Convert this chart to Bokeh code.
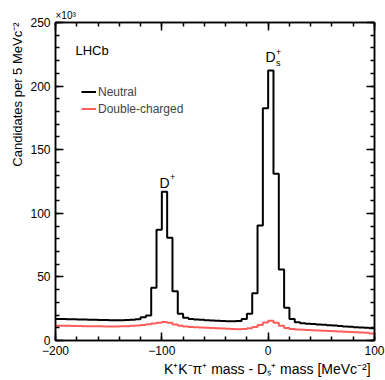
import numpy as np
from bokeh.plotting import figure
from bokeh.models import (LinearAxis, SingleIntervalTicker, Label, Legend, LegendItem,
                          Range1d, CustomJSTickFormatter, Title)
from bokeh.embed import file_html
from bokeh.resources import INLINE

# ---- data (candidates per 5 MeV, in units of 10^3) ----
BIN_LO = -200
BIN_W = 5
neutral = [17.0, 16.9, 16.8, 16.7, 16.6, 16.5, 16.4, 16.3, 16.2, 16.1, 16.0, 16.0, 16.0, 16.2, 16.4, 16.8,
           18.3, 19.7, 41.4, 87.0, 117.0, 80.7, 38.8, 21.0, 17.8, 17.0, 16.5, 16.3, 16.0, 15.8, 15.5,
           15.3, 15.2, 15.2, 15.3, 17.0, 21.0, 37.2, 90.4, 182.6, 212.3, 131.0, 55.8, 25.7, 17.0,
           14.4, 13.6,
           13.2, 12.9, 12.6, 12.3, 12.0, 11.7, 11.4, 11.1, 10.8, 10.5, 10.2, 10.0, 9.7]
double = [11.6, 11.5, 11.5, 11.4, 11.4, 11.3, 11.3, 11.2, 11.2, 11.1, 11.1, 11.1, 11.2, 11.3, 11.5, 11.8,
          12.2, 12.8, 13.4, 14.0, 14.5, 14.0, 12.6, 11.6, 11.0, 10.6, 10.4, 10.2, 10.0, 9.8, 9.6,
          9.4, 9.2, 9.0, 8.9, 9.0, 9.6, 10.6, 12.2, 14.2, 15.6, 14.0, 11.5, 9.8, 9.0,
          8.6, 8.4,
          8.2, 8.0, 7.8, 7.6, 7.4, 7.2, 7.0, 6.8, 6.6, 6.4, 6.2, 6.0, 5.6]
series_names = ["Neutral", "Double-charged"]
x_title = "K⁺K⁻π⁺ mass - Dₛ⁺ mass  [MeVc⁻²]"
y_title = "Candidates per 5 MeVc⁻²"

nb = len(neutral)
edges = BIN_LO + BIN_W * np.arange(nb + 1)

FONT = "Liberation Sans"

p = figure(width=385, height=380, output_backend="svg", toolbar_location=None,
           x_range=Range1d(-200, 100), y_range=Range1d(0, 250))
p.min_border = 0
p.min_border_left = 55
p.min_border_right = 11
p.min_border_top = 22
p.min_border_bottom = 40
p.xgrid.visible = False
p.ygrid.visible = False
p.outline_line_color = "black"
p.outline_line_width = 1.5
p.background_fill_color = "white"
p.border_fill_color = "white"


def style_axis(ax, interval, labels=True):
    ax.ticker = SingleIntervalTicker(interval=interval, num_minor_ticks=5)
    ax.major_tick_in = 8
    ax.major_tick_out = 0
    ax.minor_tick_in = 4
    ax.minor_tick_out = 0
    ax.major_tick_line_width = 1.5
    ax.minor_tick_line_width = 1.5
    ax.axis_line_width = 1.5
    ax.major_tick_line_color = "black"
    ax.minor_tick_line_color = "black"
    ax.axis_line_color = "black"
    if labels:
        ax.major_label_text_font = FONT
        ax.major_label_text_font_size = "12px"
        ax.major_label_text_color = "black"
        ax.major_label_standoff = 5
    else:
        ax.formatter = CustomJSTickFormatter(code="return ''")
        ax.major_label_text_font_size = "0px"
        ax.major_label_standoff = 0


xa = p.xaxis[0]
ya = p.yaxis[0]
style_axis(xa, 100)
style_axis(ya, 50)

top = LinearAxis()
style_axis(top, 100, labels=False)
p.add_layout(top, "above")
right = LinearAxis()
style_axis(right, 50, labels=False)
p.add_layout(right, "right")

p.add_layout(Title(text="×10³", align="left", text_font=FONT, text_font_size="10px",
                   text_font_style="normal", text_color="black", standoff=3), "above")
p.add_layout(Title(text=x_title, align="right", text_font=FONT, text_font_size="14px",
                   text_font_style="normal", text_color="black", standoff=2), "below")
p.add_layout(Title(text=y_title, align="right", text_font=FONT, text_font_size="13px",
                   text_font_style="normal", text_color="black", standoff=6), "left")

xs = list(edges)
r_neu = p.step(x=xs, y=neutral + [neutral[-1]], mode="after", line_color="black", line_width=2)
r_dbl = p.step(x=xs, y=double + [double[-1]], mode="after", line_color="#ff4040", line_width=2,
               line_alpha=0.85)

legend = Legend(items=[LegendItem(label=series_names[0], renderers=[r_neu]),
                       LegendItem(label=series_names[1], renderers=[r_dbl])],
                location=(26, 224), padding=0, margin=0, spacing=2,
                glyph_width=15, glyph_height=15, label_height=15, label_standoff=2,
                label_text_font=FONT, label_text_font_size="12px",
                border_line_alpha=0, background_fill_alpha=0)
p.add_layout(legend, "center")


def px2x(px):
    return -200 + (px - 55) * 300 / 319.0


def py2y(py):
    return (340 - py) * 250 / 318.0


def lab(px, py, text, size, style="normal", align="left"):
    p.add_layout(Label(x=px2x(px), y=py2y(py), text=text, text_font=FONT,
                       text_font_size=f"{size}px", text_font_style=style,
                       text_align=align, text_baseline="alphabetic",
                       text_color="black"))


# LHCb
lab(75, 50, "LHCb", 13)

# peak labels
lab(159, 182, "D", 14)
lab(169.5, 176, "+", 9)
lab(265, 56.7, "D", 14)
lab(275.5, 51, "+", 9)
lab(275.5, 62, "s", 9)

open("out.html", "w").write(file_html(p, INLINE))
